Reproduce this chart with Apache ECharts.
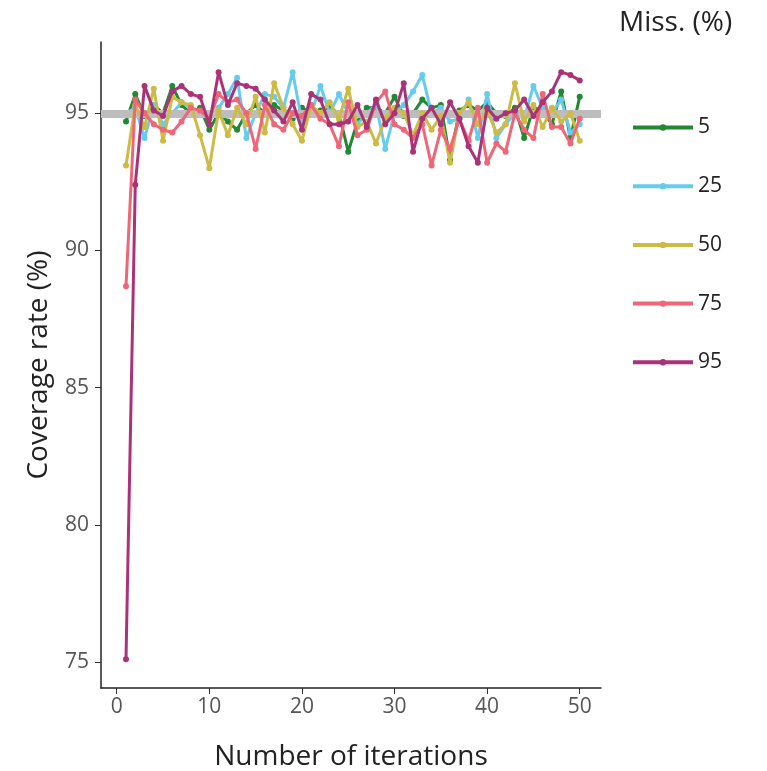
<!DOCTYPE html>
<html>
<head>
<meta charset="utf-8">
<script src="https://cdn.jsdelivr.net/npm/echarts@6/dist/echarts.min.js"></script>
<style>
html,body{margin:0;padding:0;background:#fff;}
#chart{width:767px;height:771px;}
</style>
</head>
<body>
<div id="chart"></div>
<script>
const iterations = Array.from({length: 50}, (_, i) => i + 1);
const seriesNames = ['5', '25', '50', '75', '95'];
const miss5  = [94.7,95.7,94.9,95.3,95.0,96.0,95.3,95.0,95.2,94.4,95.0,94.7,94.4,95.0,95.3,95.0,95.3,95.1,94.8,95.2,95.0,95.1,95.2,95.0,93.6,94.7,95.2,95.2,95.0,95.6,94.9,95.0,95.5,95.2,95.3,93.3,95.1,95.3,95.1,95.4,95.0,94.9,95.2,94.1,95.2,95.1,94.6,95.8,94.1,95.6];
const miss25 = [95.0,95.2,94.1,95.3,94.6,95.0,95.4,95.2,95.0,94.8,95.2,95.7,96.3,94.1,95.0,95.7,95.6,95.2,96.5,94.7,95.0,96.0,95.0,95.7,95.0,94.6,95.0,95.3,93.7,95.0,95.3,95.8,96.4,95.0,95.2,94.7,94.8,95.5,94.1,95.7,94.1,94.6,95.0,94.8,96.0,95.2,95.0,95.5,94.3,94.6];
const miss50 = [93.1,95.3,94.5,95.9,94.0,95.6,95.4,95.3,94.2,93.0,95.1,94.2,95.2,94.6,95.6,94.3,96.1,95.2,94.6,94.0,95.3,95.0,95.4,94.8,95.9,94.5,94.7,93.9,94.8,95.2,95.0,94.2,95.0,94.4,94.9,93.2,95.0,95.4,94.6,95.1,94.3,94.6,96.1,94.7,95.3,94.5,95.2,94.7,95.0,94.0];
const miss75 = [88.7,95.5,95.0,94.6,94.4,94.3,94.7,95.2,95.1,94.8,95.7,95.4,95.5,95.0,93.7,95.3,94.6,94.4,95.0,94.9,95.3,94.8,94.6,93.8,95.4,94.2,94.4,95.4,95.8,94.6,94.4,94.1,94.6,93.1,94.4,93.7,94.8,94.0,95.2,93.2,93.9,93.6,95.0,94.4,94.1,95.7,94.5,94.5,93.9,94.8];
const miss95 = [75.1,92.4,96.0,95.1,94.9,95.8,96.0,95.7,95.6,94.6,96.5,95.3,96.1,96.0,95.9,95.5,95.1,94.7,95.4,94.4,95.7,95.5,94.6,94.6,94.7,95.3,94.5,95.5,94.6,95.0,96.1,93.6,94.8,95.2,94.6,95.4,94.8,93.8,93.2,95.2,94.8,95.0,95.1,95.5,94.9,95.4,95.8,96.5,96.4,96.2];
const yTicks = [75, 80, 85, 90, 95];
const xTicks = [0, 10, 20, 30, 40, 50];
const targetRate = 95;

const allValues = [miss5, miss25, miss50, miss75, miss95];
const colors = ['#228833', '#66CCEE', '#CCBB44', '#EE6677', '#AA3377'];
const FONT = 'Open Sans';

const series = allValues.map((vals, k) => ({
  name: seriesNames[k],
  type: 'line',
  data: vals.map((v, i) => [iterations[i], v]),
  symbol: 'circle',
  symbolSize: 6,
  lineStyle: {width: 3, color: colors[k]},
  itemStyle: {color: colors[k]},
  z: 3 + k
}));
series.unshift({
  name: 'ref',
  type: 'line',
  data: [],
  silent: true,
  markLine: {
    silent: true,
    symbol: ['none', 'none'],
    label: {show: false},
    lineStyle: {color: '#bdbdbd', width: 8, type: 'solid'},
    data: [{yAxis: targetRate}]
  },
  z: 1
});

const chart = echarts.init(document.getElementById('chart'));
chart.setOption({
  animation: false,
  backgroundColor: '#ffffff',
  textStyle: {fontFamily: FONT},
  title: {
    text: 'Miss. (%)', left: 614, top: 4,
    textStyle: {fontFamily: FONT, fontSize: 28, fontWeight: 'normal', color: '#222'}
  },
  legend: {
    data: seriesNames,
    orient: 'vertical',
    left: 626, top: 112,
    itemWidth: 60, itemHeight: 8, itemGap: 37.7,
    lineStyle: {width: 4},
    textStyle: {fontFamily: FONT, fontSize: 21, color: '#222'}
  },
  grid: {left: 101, right: 166, top: 42, bottom: 83, containLabel: false, outerBoundsMode: 'none'},
  xAxis: {
    type: 'value', min: -1.7, max: 52.3,
    name: 'Number of iterations', nameLocation: 'middle', nameGap: 55,
    nameTextStyle: {fontFamily: FONT, fontSize: 28, color: '#222'},
    axisLine: {show: true, onZero: false, lineStyle: {color: '#222', width: 1.5}},
    axisTick: {show: true, length: 6, lineStyle: {color: '#333'}, customValues: xTicks},
    axisLabel: {fontFamily: FONT, fontSize: 21, color: '#555', margin: 9, customValues: xTicks},
    splitLine: {show: false}
  },
  yAxis: {
    type: 'value', min: 74.05, max: 97.6,
    name: 'Coverage rate (%)', nameLocation: 'middle', nameGap: 48,
    nameTextStyle: {fontFamily: FONT, fontSize: 28, color: '#222'},
    axisLine: {show: true, onZero: false, lineStyle: {color: '#222', width: 1.5}},
    axisTick: {show: true, length: 6, lineStyle: {color: '#333'}, customValues: yTicks},
    axisLabel: {fontFamily: FONT, fontSize: 21, color: '#555', margin: 12, customValues: yTicks},
    splitLine: {show: false}
  },
  series: series
});
</script>
</body>
</html>
